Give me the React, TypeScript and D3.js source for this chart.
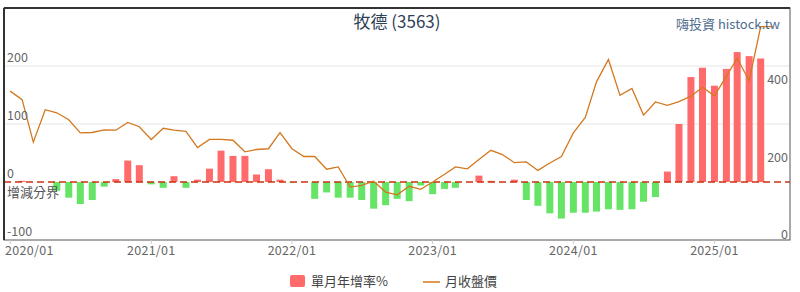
import React from "react";
import * as d3 from "d3";

const startYear = 2020;
const months: string[] = Array.from({ length: 66 }, (_, i) => {
  const y = startYear + Math.floor(i / 12);
  const m = (i % 12) + 1;
  return `${y}/${m < 10 ? "0" + m : m}`;
});

const yoyValues: (number | null)[] = [
  0, 2, 0, 0, -15, -27, -38, -31, -8, 5, 37, 29,
  -4, -10, 10, -10, 4, 23, 54, 45, 45, 13, 22, 4,
  -1, 0, -29, -18, -27, -27, -31, -46, -40, -29, -33, -6,
  -21, -12, -10, 0, 11, 2, 0, 4, -31, -41, -54, -63,
  -53, -53, -51, -47, -48, -47, -34, -26, 18, 100, 181, 197,
  166, 195, 224, 217, 213, null,
];

const priceValues: number[] = [
  385, 363, 253, 337, 329, 311, 277, 278, 285, 284, 304, 293,
  260, 289, 284, 281, 239, 260, 260, 258, 228, 234, 236, 278,
  236, 216, 216, 183, 189, 137, 141, 152, 124, 117, 139, 131,
  150, 170, 189, 184, 208, 232, 221, 200, 202, 180, 199, 216,
  277, 317, 409, 467, 374, 392, 323, 357, 348, 358, 372, 395,
  373, 423, 470, 412, 552, 552,
];

const leftTicks = [-100, 0, 100, 200];
const rightTicks = [0, 200, 400];
const xTickYears = [2020, 2021, 2022, 2023, 2024, 2025];

const title = "牧德 (3563)";
const credit = "嗨投資 histock.tw";
const zeroLabel = "增減分界";
const seriesNames = ["單月年增率%", "月收盤價"];

const W = 800;
const H = 292;
const plot = { left: 4, right: 790, top: 8, bottom: 240 };

const FONT = "'Noto Sans CJK TC', 'Noto Sans', sans-serif";

function parseMonth(s: string): Date {
  const [y, m] = s.split("/").map(Number);
  return new Date(y, m - 1, 1);
}

export default function App() {
  const x = d3
    .scaleTime()
    .domain([new Date(2019, 11, 16), new Date(2025, 6, 16)])
    .range([plot.left, plot.right]);
  const yL = d3.scaleLinear().domain([-100, 300]).range([plot.bottom, plot.top]);
  const yR = d3.scaleLinear().domain([0, 600]).range([plot.bottom, plot.top]);

  const barW = 7;
  const dates = months.map(parseMonth);

  const line = d3
    .line<number>()
    .x((_, i) => x(dates[i]))
    .y((d) => yR(d));

  const red = "#ff6b6b";
  const green = "#66e466";
  const lineColor = "#d4781f";

  return (
    <div style={{ position: "absolute", left: 0, top: 0, width: W, height: H }}>
      <svg width={W} height={H} style={{ display: "block", fontFamily: FONT }}>
        <rect x={0} y={0} width={W} height={H} fill="#fff" />
        {[100, 200].map((v) => (
          <line
            key={"g" + v}
            x1={plot.left}
            x2={plot.right}
            y1={yL(v)}
            y2={yL(v)}
            stroke="#e6e6e6"
            strokeWidth={1}
          />
        ))}
        {yoyValues.map((v, i) => {
          if (v === null || v === 0) return null;
          const cx = x(dates[i]);
          const y0 = yL(0);
          const y1 = yL(v);
          return (
            <rect
              key={"b" + i}
              x={cx - barW / 2}
              y={Math.min(y0, y1)}
              width={barW}
              height={Math.abs(y1 - y0)}
              fill={v > 0 ? red : green}
            />
          );
        })}
        <line
          x1={plot.left}
          x2={plot.right}
          y1={yL(0)}
          y2={yL(0)}
          stroke="#cc3311"
          strokeWidth={1.5}
          strokeDasharray="7,4"
        />
        <path d={line(priceValues) || ""} fill="none" stroke={lineColor} strokeWidth={1.3} />
        <rect
          x={plot.left}
          y={plot.top}
          width={plot.right - plot.left}
          height={plot.bottom - plot.top}
          fill="none"
          stroke="#555"
          strokeWidth={1}
        />
        <line x1={plot.left} x2={plot.right} y1={plot.top} y2={plot.top} stroke="#333" strokeWidth={2} />
        <line x1={plot.left} x2={plot.left} y1={plot.top} y2={plot.bottom} stroke="#333" strokeWidth={2} />
        {leftTicks.map((v) => (
          <text key={"l" + v} x={7} y={yL(v) - 4} fontSize={12.5} fill="#666">
            {v}
          </text>
        ))}
        <text x={7} y={yL(0) + 15} fontSize={13} fill="#555">
          {zeroLabel}
        </text>
        {rightTicks.map((v) => (
          <text key={"r" + v} x={788} y={yR(v) - 1} fontSize={12.5} fill="#666" textAnchor="end">
            {v}
          </text>
        ))}
        {xTickYears.map((yr, i) => {
          const tx = x(new Date(yr, 0, 1));
          const label = `${yr}/01`;
          return (
            <g key={"x" + yr}>
              <line x1={tx} x2={tx} y1={plot.bottom} y2={plot.bottom + 4} stroke="#ccc" />
              <text
                x={i === 0 ? 5 : tx}
                y={plot.bottom + 15}
                fontSize={12.5}
                fill="#666"
                letterSpacing={0.3}
                textAnchor={i === 0 ? "start" : "middle"}
              >
                {label}
              </text>
            </g>
          );
        })}
        <text x={397} y={28} fontSize={17} fill="#2f4157" textAnchor="middle">
          {title}
        </text>
        <text x={780} y={29} fontSize={13} fill="#4f6d8f" textAnchor="end">
          {credit}
        </text>
        <rect x={290} y={275} width={15} height={12} rx={2} fill={red} />
        <text x={311} y={286} fontSize={13} fill="#444">
          {seriesNames[0]}
        </text>
        <line x1={423} x2={440} y1={282} y2={282} stroke={lineColor} strokeWidth={1.5} />
        <text x={445} y={286} fontSize={13} fill="#444">
          {seriesNames[1]}
        </text>
      </svg>
    </div>
  );
}
